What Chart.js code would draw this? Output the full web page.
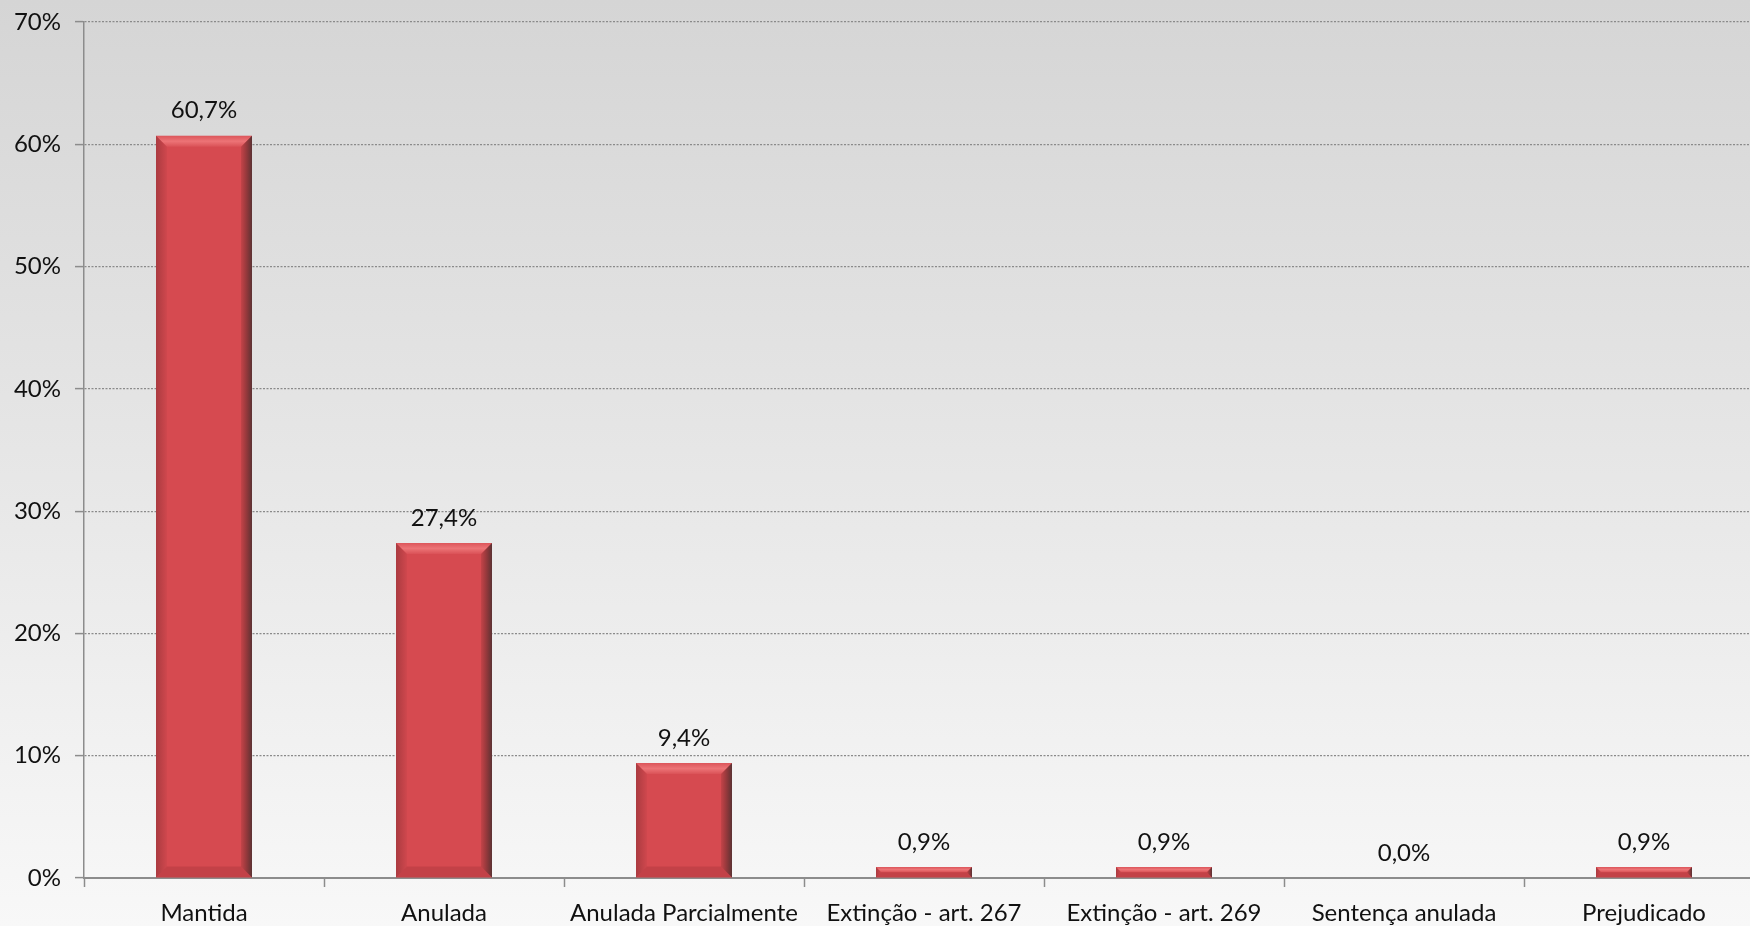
<!DOCTYPE html>
<html>
<head>
<meta charset="utf-8">
<script src="https://cdn.jsdelivr.net/npm/chart.js@4/dist/chart.umd.min.js"></script>
<style>
  html, body { margin: 0; padding: 0; overflow: hidden; background: #f7f7f7; }
  #wrap { width: 1764px; height: 926px; }
</style>
</head>
<body>
<div id="wrap"><canvas id="chart" width="1764" height="926"></canvas></div>
<script>
var categories = ["Mantida", "Anulada", "Anulada Parcialmente", "Extinção - art. 267", "Extinção - art. 269", "Sentença anulada", "Prejudicado"];
var percentages = [60.7, 27.4, 9.4, 0.9, 0.9, 0.0, 0.9];
var yTicks = [0, 10, 20, 30, 40, 50, 60, 70];

var FONT = "Lato, 'Open Sans', sans-serif";
var BAR_COLOR = 'rgb(214, 74, 80)';

function fmt(v) {
  return v.toFixed(1).replace('.', ',') + '%';
}

// gradient background behind everything
var backgroundPlugin = {
  id: 'background',
  beforeDraw: function (chart) {
    var ctx = chart.ctx;
    var g = ctx.createLinearGradient(0, 0, 0, chart.height);
    g.addColorStop(0, '#d5d5d5');
    g.addColorStop(1, '#f8f8f8');
    ctx.save();
    ctx.fillStyle = g;
    ctx.fillRect(0, 0, chart.width, chart.height);
    ctx.restore();
  }
};

// bevel edges and value labels on bars
var bevelPlugin = {
  id: 'bevel',
  afterDatasetsDraw: function (chart) {
    var ctx = chart.ctx;
    var meta = chart.getDatasetMeta(0);
    ctx.save();
    meta.data.forEach(function (bar, i) {
      var l = bar.x - bar.width / 2, r = bar.x + bar.width / 2;
      var t = bar.y, bo = bar.base;
      var h = bo - t;
      if (h > 0.5) {
        var b = Math.min(11, h / 2);
        function quad(pts, fill) {
          ctx.beginPath();
          ctx.moveTo(pts[0][0], pts[0][1]);
          for (var k = 1; k < pts.length; k++) ctx.lineTo(pts[k][0], pts[k][1]);
          ctx.closePath();
          ctx.fillStyle = fill;
          ctx.fill();
        }
        var tg = ctx.createLinearGradient(0, t, 0, t + b);
        tg.addColorStop(0, 'rgba(255, 150, 150, 0.15)');
        tg.addColorStop(0.5, 'rgba(255, 150, 150, 0.55)');
        tg.addColorStop(1, 'rgba(255, 150, 150, 0.1)');
        quad([[l, t], [r, t], [r - b, t + b], [l + b, t + b]], tg);
        quad([[l, bo], [r, bo], [r - b, bo - b], [l + b, bo - b]], 'rgba(120, 30, 35, 0.2)');
        var lg = ctx.createLinearGradient(l, 0, l + b, 0);
        lg.addColorStop(0, 'rgba(90, 30, 35, 0.35)');
        lg.addColorStop(1, 'rgba(90, 30, 35, 0.05)');
        quad([[l, t], [l, bo], [l + b, bo - b], [l + b, t + b]], lg);
        var rg = ctx.createLinearGradient(r - b, 0, r, 0);
        rg.addColorStop(0, 'rgba(90, 30, 30, 0.15)');
        rg.addColorStop(1, 'rgba(60, 45, 45, 0.8)');
        quad([[r, t], [r, bo], [r - b, bo - b], [r - b, t + b]], rg);
      }
      ctx.fillStyle = '#111';
      ctx.font = '24px ' + FONT;
      ctx.textAlign = 'center';
      ctx.textBaseline = 'middle';
      ctx.fillText(fmt(percentages[i]), bar.x, t - 25);
    });
    ctx.restore();
  }
};

var canvas = document.getElementById('chart');
var context = canvas.getContext('2d');

var chart = new Chart(context, {
  type: 'bar',
  data: {
    labels: categories,
    datasets: [{
      data: percentages,
      backgroundColor: BAR_COLOR,
      borderWidth: 0,
      barPercentage: 0.4,
      categoryPercentage: 1.0
    }]
  },
  options: {
    responsive: false,
    animation: false,
    layout: { padding: { top: 22, right: 0, left: 0, bottom: 0 } },
    plugins: {
      legend: { display: false },
      tooltip: { enabled: false }
    },
    scales: {
      x: {
        afterFit: function (scale) { scale.height = 48; },
        grid: {
          drawOnChartArea: false,
          offset: true,
          tickLength: 9,
          tickColor: '#8c8c8c',
          tickWidth: 1.5
        },
        border: { color: '#8c8c8c', width: 2 },
        ticks: {
          color: '#111',
          padding: 12,
          maxRotation: 0,
          autoSkip: false,
          font: { family: FONT, size: 24 }
        }
      },
      y: {
        min: 0,
        max: 70,
        afterFit: function (scale) {
          scale.width = 84;
          scale.paddingTop = 0;
          scale.paddingBottom = 0;
        },
        afterBuildTicks: function (scale) {
          scale.ticks = yTicks.map(function (v) { return { value: v }; });
        },
        grid: {
          color: '#8a8a8a',
          lineWidth: 1.2,
          tickLength: 9,
          tickColor: '#8c8c8c',
          tickBorderDash: [],
          tickWidth: 1.5
        },
        // in v4 border.dash dashes the grid lines, the axis line stays solid
        border: { color: '#8c8c8c', width: 1.5, dash: [2, 1.5] },
        ticks: {
          color: '#111',
          padding: 14,
          font: { family: FONT, size: 24 },
          callback: function (v) { return v + '%'; }
        }
      }
    }
  },
  plugins: [backgroundPlugin, bevelPlugin]
});
</script>
</body>
</html>
